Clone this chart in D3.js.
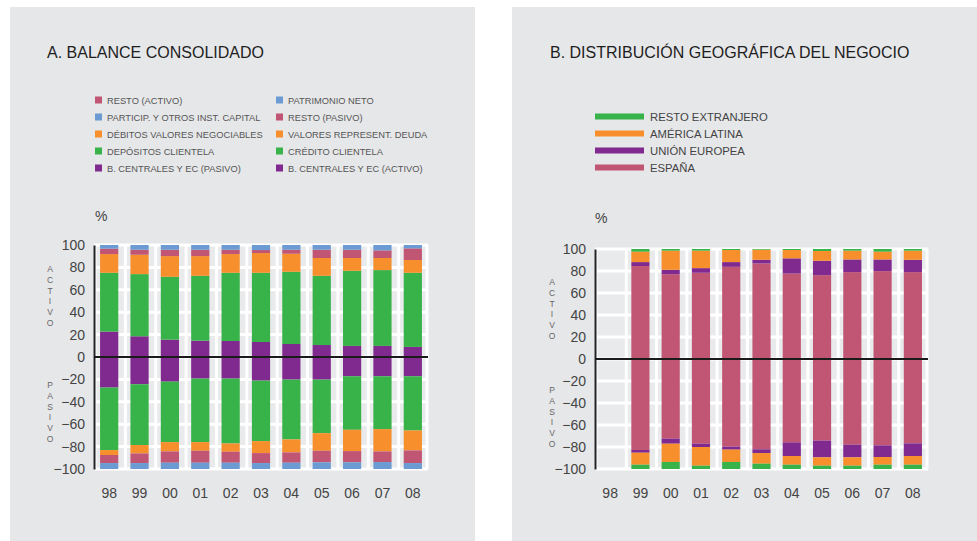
<!DOCTYPE html>
<html>
<head>
<meta charset="utf-8">
<script src="https://cdn.jsdelivr.net/npm/d3@7/dist/d3.min.js"></script>
<style>
  html, body { margin: 0; padding: 0; background: #ffffff; }
  svg { display: block; font-family: "Liberation Sans", Arial, Helvetica, sans-serif; }
</style>
</head>
<body>
<svg id="chart" width="977" height="541"></svg>
<script>
// Years shown on both charts
const years = ["98", "99", "00", "01", "02", "03", "04", "05", "06", "07", "08"];
const yTicks = [100, 80, 60, 40, 20, 0, -20, -40, -60, -80, -100];

// A. Balance consolidado — activo (%), stacked from zero upwards
const bcActivo      = [22.7, 18.5, 15.5, 14.6, 14.3, 13.4, 11.6, 10.7, 9.9, 9.9, 9.0];
const creditoClient = [52.5, 55.5, 56.1, 57.9, 60.9, 61.8, 64.5, 61.8, 67.1, 67.7, 66.2];
const valoresDeuda  = [16.7, 17.3, 18.5, 17.6, 16.7, 17.6, 16.1, 15.9, 11.4, 10.8, 11.4];
const restoActivo   = [4.8, 4.5, 5.7, 5.7, 3.9, 2.7, 3.6, 7.4, 7.4, 6.8, 10.4];
const participCap   = [3.3, 4.2, 4.2, 4.2, 4.2, 4.5, 4.2, 4.2, 4.2, 4.8, 3.0];

// A. Balance consolidado — pasivo (%), stacked from zero downwards
const bcPasivo      = [27.3, 24.3, 22.0, 19.3, 19.3, 21.1, 20.2, 20.2, 17.2, 17.2, 17.2];
const depositosCl   = [55.8, 54.3, 54.0, 56.7, 57.9, 54.0, 53.4, 47.8, 47.8, 47.2, 48.4];
const debitosValor  = [4.4, 7.5, 8.3, 7.7, 7.4, 10.7, 11.6, 15.7, 19.0, 19.9, 17.8];
const restoPasivo   = [7.2, 8.6, 10.1, 10.7, 9.8, 8.9, 9.2, 10.4, 10.1, 9.5, 11.3];
const patrimonio    = [5.3, 5.3, 5.6, 5.6, 5.6, 5.3, 5.6, 5.9, 5.9, 6.2, 5.3];

// B. Distribución geográfica — activo (%); no data for 98
const espanaAct  = [0, 84.5, 77.1, 78.4, 83.8, 86.9, 77.7, 76.2, 79.0, 79.9, 79.0];
const ueAct      = [0, 3.6, 4.0, 4.2, 4.3, 3.3, 13.8, 13.1, 11.5, 10.6, 11.2];
const latamAct   = [0, 9.5, 17.4, 15.9, 11.0, 9.2, 7.6, 8.9, 8.0, 7.1, 8.3];
const restoExtAct= [0, 2.4, 1.5, 1.5, 0.9, 0.6, 0.9, 1.8, 1.5, 2.4, 1.5];

// B. Distribución geográfica — pasivo (%)
const espanaPas  = [0, 82.7, 72.4, 77.0, 79.7, 82.1, 75.8, 74.2, 77.9, 78.5, 76.7];
const uePas      = [0, 2.5, 4.6, 3.0, 2.7, 3.4, 12.4, 15.2, 11.5, 10.6, 11.5];
const latamPas   = [0, 10.9, 16.6, 17.0, 11.2, 9.7, 7.9, 7.6, 7.6, 7.0, 7.9];
const restoExtPas= [0, 3.9, 6.4, 3.0, 6.4, 4.8, 3.9, 3.0, 3.0, 3.9, 3.9];

const C = {
  purple: "#80298f",
  green:  "#37b34a",
  orange: "#f68f2c",
  pink:   "#c15674",
  blue:   "#6b9bd2"
};

const svg = d3.select("#chart");

// Grey panels behind each chart
svg.append("rect").attr("x", 10).attr("y", 7).attr("width", 465).attr("height", 534).attr("fill", "#e6e7e9");
svg.append("rect").attr("x", 512).attr("y", 7).attr("width", 465).attr("height", 534).attr("fill", "#e6e7e9");

function drawChart(opts) {
  const g = svg.append("g");
  const x = d3.scaleBand().domain(years).range([opts.x0, opts.x1]);
  const y = d3.scaleLinear().domain([-100, 100]).range([opts.yBottom, opts.yTop]);
  const barW = x.bandwidth() * 0.6;

  // title
  g.append("text").attr("x", opts.titleX).attr("y", 58)
    .attr("font-size", 16).attr("fill", "#1e1e1e").text(opts.title);

  // plot background with white grid
  g.append("rect").attr("x", opts.x0).attr("y", y(100))
    .attr("width", opts.x1 - opts.x0).attr("height", y(-100) - y(100)).attr("fill", "#e9eaec");
  g.selectAll(".hgrid").data(yTicks).join("line")
    .attr("x1", opts.x0).attr("x2", opts.x1)
    .attr("y1", d => y(d)).attr("y2", d => y(d))
    .attr("stroke", "#ffffff").attr("stroke-width", 3);
  g.selectAll(".vgrid").data(years.concat(["end"])).join("line")
    .attr("x1", (d, i) => i < years.length ? x(d) + 1 : opts.x1 - 1)
    .attr("x2", (d, i) => i < years.length ? x(d) + 1 : opts.x1 - 1)
    .attr("y1", y(100)).attr("y2", y(-100))
    .attr("stroke", "#ffffff").attr("stroke-width", 3);

  // bars: positive stack upwards, negative stack downwards
  function stackBars(series, sign) {
    const rows = years.map((yr, i) => {
      const r = { year: yr };
      series.forEach((s, k) => r["s" + k] = s.values[i]);
      return r;
    });
    const keys = series.map((s, k) => "s" + k);
    const stacked = d3.stack().keys(keys)(rows);
    stacked.forEach((layer, k) => {
      g.append("g").selectAll("rect").data(layer).join("rect")
        .attr("x", d => x(d.data.year) + (x.bandwidth() - barW) / 2)
        .attr("width", barW)
        .attr("y", d => sign > 0 ? y(d[1]) : y(-d[0]))
        .attr("height", d => Math.abs(y(d[1]) - y(d[0])))
        .attr("fill", series[k].color);
    });
  }
  stackBars(opts.activo, 1);
  stackBars(opts.pasivo, -1);

  // y axis
  const yAxis = d3.axisLeft(y).tickValues(yTicks).tickSize(0).tickPadding(9);
  const ya = g.append("g").attr("transform", `translate(${opts.x0},0)`).call(yAxis);
  ya.select(".domain").attr("stroke", "#222").attr("stroke-width", 2);
  ya.selectAll("text").attr("font-size", 14).attr("fill", "#444")
    .attr("font-family", "Liberation Sans, Arial, sans-serif");

  // zero line
  g.append("line").attr("x1", opts.x0).attr("x2", opts.x1)
    .attr("y1", y(0)).attr("y2", y(0)).attr("stroke", "#1a1a1a").attr("stroke-width", 2);

  // x axis labels
  const xAxis = d3.axisBottom(x).tickSize(0).tickPadding(0);
  const xa = g.append("g").attr("transform", `translate(0,${opts.xLabelY})`).call(xAxis);
  xa.select(".domain").remove();
  xa.selectAll("text").attr("font-size", 14).attr("fill", "#444")
    .attr("font-family", "Liberation Sans, Arial, sans-serif");

  // percent label
  g.append("text").attr("x", opts.pctX).attr("y", opts.pctY)
    .attr("font-size", 14).attr("fill", "#444").text("%");

  // vertical letter labels
  function letters(word, cx, yStart) {
    g.append("g").selectAll("text").data(word.split("")).join("text")
      .attr("x", cx).attr("y", (d, i) => yStart + i * 10.8)
      .attr("text-anchor", "middle").attr("font-size", 8.5).attr("fill", "#666")
      .text(d => d);
  }
  letters("ACTIVO", opts.lettersX, opts.activoY);
  letters("PASIVO", opts.lettersX, opts.pasivoY);
}

// Chart A
drawChart({
  title: "A. BALANCE CONSOLIDADO", titleX: 47,
  x0: 94, x1: 428, yTop: 245, yBottom: 469, xLabelY: 488,
  pctX: 95, pctY: 221, lettersX: 50, activoY: 272, pasivoY: 388,
  activo: [
    { values: bcActivo, color: C.purple },
    { values: creditoClient, color: C.green },
    { values: valoresDeuda, color: C.orange },
    { values: restoActivo, color: C.pink },
    { values: participCap, color: C.blue }
  ],
  pasivo: [
    { values: bcPasivo, color: C.purple },
    { values: depositosCl, color: C.green },
    { values: debitosValor, color: C.orange },
    { values: restoPasivo, color: C.pink },
    { values: patrimonio, color: C.blue }
  ]
});

// Chart B
drawChart({
  title: "B. DISTRIBUCIÓN GEOGRÁFICA DEL NEGOCIO", titleX: 550,
  x0: 595, x1: 928, yTop: 249, yBottom: 469, xLabelY: 488,
  pctX: 595, pctY: 223, lettersX: 552, activoY: 285, pasivoY: 393,
  activo: [
    { values: espanaAct, color: C.pink },
    { values: ueAct, color: C.purple },
    { values: latamAct, color: C.orange },
    { values: restoExtAct, color: C.green }
  ],
  pasivo: [
    { values: espanaPas, color: C.pink },
    { values: uePas, color: C.purple },
    { values: latamPas, color: C.orange },
    { values: restoExtPas, color: C.green }
  ]
});

// Legend A: two columns of square swatches
const legendA = [
  { label: "RESTO (ACTIVO)", color: C.pink, col: 0, row: 0 },
  { label: "PARTICIP. Y OTROS INST. CAPITAL", color: C.blue, col: 0, row: 1 },
  { label: "DÉBITOS VALORES NEGOCIABLES", color: C.orange, col: 0, row: 2 },
  { label: "DEPÓSITOS CLIENTELA", color: C.green, col: 0, row: 3 },
  { label: "B. CENTRALES Y EC (PASIVO)", color: C.purple, col: 0, row: 4 },
  { label: "PATRIMONIO NETO", color: C.blue, col: 1, row: 0 },
  { label: "RESTO (PASIVO)", color: C.pink, col: 1, row: 1 },
  { label: "VALORES REPRESENT. DEUDA", color: C.orange, col: 1, row: 2 },
  { label: "CRÉDITO CLIENTELA", color: C.green, col: 1, row: 3 },
  { label: "B. CENTRALES Y EC (ACTIVO)", color: C.purple, col: 1, row: 4 }
];
const la = svg.append("g").selectAll("g").data(legendA).join("g")
  .attr("transform", d => `translate(${d.col ? 276 : 95},${100 + d.row * 17})`);
la.append("rect").attr("x", 0).attr("y", -3.5).attr("width", 7).attr("height", 7).attr("fill", d => d.color);
la.append("text").attr("x", 12).attr("y", 3.5).attr("font-size", 9.3).attr("fill", "#555").text(d => d.label);

// Legend B: line swatches
const legendB = [
  { label: "RESTO EXTRANJERO", color: C.green },
  { label: "AMÉRICA LATINA", color: C.orange },
  { label: "UNIÓN EUROPEA", color: C.purple },
  { label: "ESPAÑA", color: C.pink }
];
const lb = svg.append("g").selectAll("g").data(legendB).join("g")
  .attr("transform", (d, i) => `translate(595,${116.5 + i * 17})`);
lb.append("rect").attr("x", 0).attr("y", -3).attr("width", 49).attr("height", 6).attr("fill", d => d.color);
lb.append("text").attr("x", 55).attr("y", 4.2).attr("font-size", 11.3).attr("fill", "#444").text(d => d.label);
</script>
</body>
</html>
